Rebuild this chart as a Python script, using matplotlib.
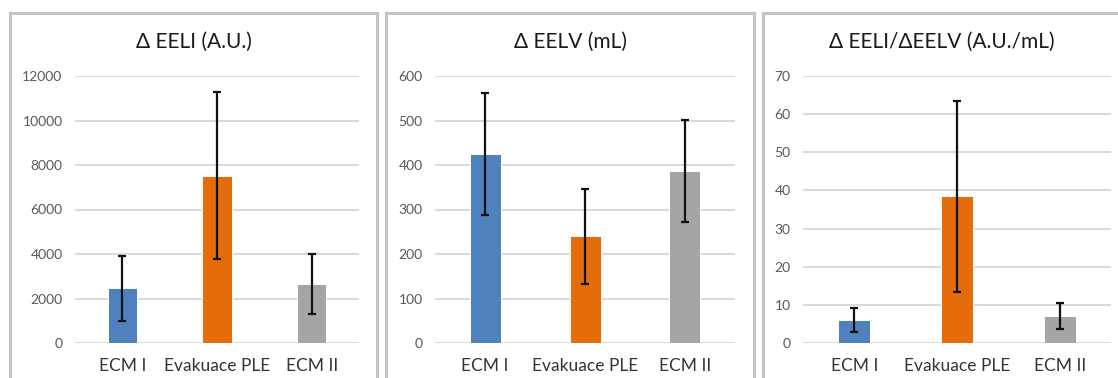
import numpy as np
import matplotlib.pyplot as plt
from matplotlib.patches import Rectangle

plt.rcParams['font.family'] = ['Lato', 'DejaVu Sans']

groups = ["ECM I", "Evakuace PLE", "ECM II"]
colors = ["#4f81bd", "#e46c0a", "#a5a5a5"]

eeli_mean = [2450, 7520, 2640]
eeli_sd = [1450, 3740, 1350]

eelv_mean = [424, 240, 386]
eelv_sd = [137, 107, 115]

ratio_mean = [6.1, 38.5, 7.1]
ratio_sd = [3.2, 25.0, 3.3]

titles = ["\u0394 EELI (A.U.)", "\u0394 EELV (mL)", "\u0394 EELI/\u0394EELV (A.U./mL)"]
ylims = [(0, 12000, 2000), (0, 600, 100), (0, 70, 10)]

W, H = 1118, 378
fig = plt.figure(figsize=(W / 100, H / 100), dpi=100)

# pixel boxes: chart frame (left, right) and plot area (left, right)
frames = [(10, 377), (386, 754), (763, 1121)]
plots = [(75, 359), (435, 735), (803, 1111)]
plot_top, plot_bot = 76, 343

panels = [(eeli_mean, eeli_sd), (eelv_mean, eelv_sd), (ratio_mean, ratio_sd)]

for i, (mean, sd) in enumerate(panels):
    fl, fr = frames[i]
    fig.patches.append(Rectangle((fl / W, -0.1), (fr - fl) / W, 1.1 - 13 / H,
                                 transform=fig.transFigure, fill=False,
                                 edgecolor="#c4c4c4", lw=2.2, zorder=0))
    fig.text((fl + fr) / 2 / W, 1 - 42 / H, titles[i], ha="center", va="center",
             fontsize=15, color="#1a1a1a")

    pl, pr = plots[i]
    ax = fig.add_axes([pl / W, 1 - plot_bot / H, (pr - pl) / W, (plot_bot - plot_top) / H])
    x = np.arange(len(groups))
    ax.bar(x, mean, width=0.31, color=colors, edgecolor="white", linewidth=0.7, zorder=2)
    ax.errorbar(x, mean, yerr=sd, fmt="none", ecolor="#111111", elinewidth=1.6,
                capsize=3.2, capthick=1.6, zorder=3)

    lo, hi, step = ylims[i]
    ax.set_ylim(lo, hi)
    ax.set_yticks(np.arange(lo, hi + step, step))
    ax.set_xlim(-0.5, 2.5)
    ax.set_xticks(x)
    ax.set_xticklabels(groups)
    ax.grid(axis="y", color="#d9d9d9", lw=1.4, zorder=0)
    ax.set_axisbelow(True)
    for s in ax.spines.values():
        s.set_visible(False)
    ax.tick_params(axis="y", length=0, pad=9, labelsize=10, labelcolor="#595959")
    ax.tick_params(axis="x", length=0, pad=11, labelsize=12.5, labelcolor="#333333")

fig.savefig("out.png", dpi=100)
